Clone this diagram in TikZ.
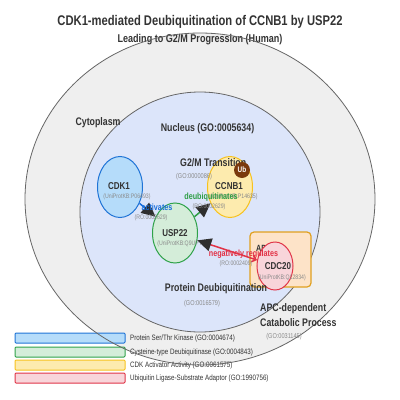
\documentclass[tikz,border=0pt]{standalone}
\usepackage{fontspec}
\setmainfont{Liberation Sans}[FakeStretch=0.8]
\usetikzlibrary{shapes.geometric,arrows.meta}
\definecolor{txt}{HTML}{333333}
\definecolor{subg}{HTML}{8A8A8A}
\definecolor{cytofill}{HTML}{EFEFEF}
\definecolor{compline}{HTML}{666666}
\definecolor{nucfill}{HTML}{DCE5FA}
\definecolor{bluef}{HTML}{B5DCFA}
\definecolor{bluel}{HTML}{1F74D6}
\definecolor{greenf}{HTML}{D4EDD9}
\definecolor{greenl}{HTML}{2FA24A}
\definecolor{yellf}{HTML}{FDEBAE}
\definecolor{yelll}{HTML}{F7C21E}
\definecolor{redf}{HTML}{F8D5DA}
\definecolor{redl}{HTML}{E03548}
\definecolor{apcf}{HTML}{FDE3C8}
\definecolor{apcl}{HTML}{E0A020}
\definecolor{ubf}{HTML}{7A3A0E}
\definecolor{actc}{HTML}{1A6FDB}
\definecolor{deubc}{HTML}{2E9E46}
\definecolor{negc}{HTML}{E23246}
\definecolor{tipc}{HTML}{2E2E2E}
\newcommand\myfs[1]{\fontsize{#1}{#1}\selectfont}
\begin{document}
\begin{tikzpicture}[x=1pt,y=-1pt,
  comp/.style={ellipse,inner sep=0pt},
  prot/.style={ellipse,inner sep=0pt,line width=1pt,minimum width=45,minimum height=61},
  plabel/.style={inner sep=0pt,text=txt,font=\myfs{10}\bfseries},
  psub/.style={inner sep=0pt,text=subg,font=\myfs{6.5}},
  clabel/.style={inner sep=0pt,text=txt,font=\myfs{11}\bfseries},
  csub/.style={inner sep=0pt,text=subg,font=\myfs{7}},
  elabel/.style={inner sep=0pt,font=\myfs{9}\bfseries},
  esub/.style={inner sep=0pt,text=subg,font=\myfs{6.5}},
  bigtip/.style={-{Triangle[length=14pt,width=13pt,color=tipc]}},
  edge/.style={line width=1.5pt,bigtip},
  legbox/.style={rounded corners=1pt,line width=1pt,minimum width=110,minimum height=10,inner sep=0pt},
  legtxt/.style={inner sep=0pt,anchor=west,text=txt,font=\myfs{7.8}}
]
\useasboundingbox (0,0) rectangle (400,400);
% title
\node[inner sep=0pt,text=txt,font=\myfs{14}\bfseries] (title) at (200,22) {CDK1-mediated Deubiquitination of CCNB1 by USP22};
% cytoplasm fill
\node[comp,fill=cytofill,minimum width=350,minimum height=332] (cytobg) at (200,199) {};
\node[inner sep=0pt,text=txt,font=\myfs{11.3}\bfseries] (subtitle) at (200,40) {Leading to G2/M Progression (Human)};
% legend
\node[legbox,fill=bluef,draw=bluel] (lg1) at (70,338) {};
\node[legbox,fill=greenf,draw=greenl] (lg2) at (70,352) {};
\node[legbox,fill=yellf,draw=yelll] (lg3) at (70,365) {};
\node[legbox,fill=redf,draw=redl] (lg4) at (70,378) {};
\node[legtxt] (lt1) at (130,338) {Protein Ser/Thr Kinase (GO:0004674)};
\node[legtxt] (lt2) at (130,352) {Cysteine-type Deubiquitinase (GO:0004843)};
\node[legtxt] (lt3) at (130,365) {CDK Activator Activity (GO:0061575)};
\node[legtxt] (lt4) at (130,378) {Ubiquitin Ligase-Substrate Adaptor (GO:1990756)};
% cytoplasm outline
\node[comp,draw=compline,line width=0.8pt,minimum width=350,minimum height=332] (cyto) at (200,199) {};
% nucleus
\node[comp,fill=nucfill,draw=compline,line width=0.8pt,minimum width=240,minimum height=240] (nuc) at (200,212) {};
\node[clabel] (cytolbl) at (98,123) {Cytoplasm};
\node[clabel] (nuclbl) at (207.5,129) {Nucleus (GO:0005634)};
% APC box
\node[rounded corners=4pt,fill=apcf,draw=apcl,line width=1.2pt,minimum width=61,minimum height=55,inner sep=0pt] (apc) at (280.5,259.5) {};
\node[inner sep=0pt,anchor=west,text=txt,font=\myfs{9}\bfseries] (apclbl) at (256,248) {APC/C};
% proteins
\node[prot,fill=bluef,draw=bluel] (cdk1) at (120,187) {};
\node[prot,fill=yellf,draw=yelll] (ccnb1) at (230,187) {};
\node[prot,fill=greenf,draw=greenl,minimum height=60] (usp22) at (175,233) {};
\node[prot,fill=redf,draw=redl,minimum width=36,minimum height=48] (cdc20) at (275,266) {};
% process labels
\node[clabel,anchor=west] (g2m) at (180,163) {G2/M Transition};
\node[csub] (g2msub) at (194,177) {(GO:0000086)};
\node[clabel] (pdub) at (216,289) {Protein Deubiquitination};
\node[csub] (pdubsub) at (202,304) {(GO:0016579)};
\node[clabel,anchor=west] (apcdep1) at (260,309) {APC-dependent};
\node[clabel,anchor=west] (apcdep2) at (260,323) {Catabolic Process};
\node[csub] (apcdepsub) at (284,337) {(GO:0031145)};
% protein labels
\node[plabel] (cdk1l) at (119,186) {CDK1};
\node[psub] (cdk1s) at (127,197) {(UniProtKB:P06493)};
\node[plabel] (ccnb1l) at (229,186) {CCNB1};
\node[psub] (ccnb1s) at (234,197) {(UniProtKB:P14635)};
\node[plabel] (usp22l) at (175,233) {USP22};
\node[psub] (usp22s) at (182,244) {(UniProtKB:Q9UPT9)};
\node[plabel] (cdc20l) at (278,266) {CDC20};
\node[psub] (cdc20s) at (282,278) {(UniProtKB:Q12834)};
% Ub
\node[circle,fill=ubf,minimum size=16,inner sep=0pt,text=white,font=\myfs{8}\bfseries] (ub) at (242,170) {Ub};
% edges
\draw[edge,draw=actc] (cdk1) -- (usp22);
\draw[edge,draw=deubc] (usp22) -- (ccnb1);
\draw[line width=1.5pt,draw=negc,{Straight Barb[length=4pt,width=7pt,color=negc]}-{Triangle[length=14pt,width=13pt,color=tipc]}] (cdc20) -- (usp22);
% edge labels
\node[elabel,text=actc] (actl) at (157,207) {activates};
\node[esub] (acts) at (151,218) {(RO:0002629)};
\node[elabel,text=deubc] (deubl) at (211,197) {deubiquitinates};
\node[esub] (deubs) at (209,207) {(RO:0002629)};
\node[elabel,text=negc] (negl) at (243.5,254) {negatively regulates};
\node[esub] (negs) at (236,264) {(RO:0002409)};
\end{tikzpicture}
\end{document}
